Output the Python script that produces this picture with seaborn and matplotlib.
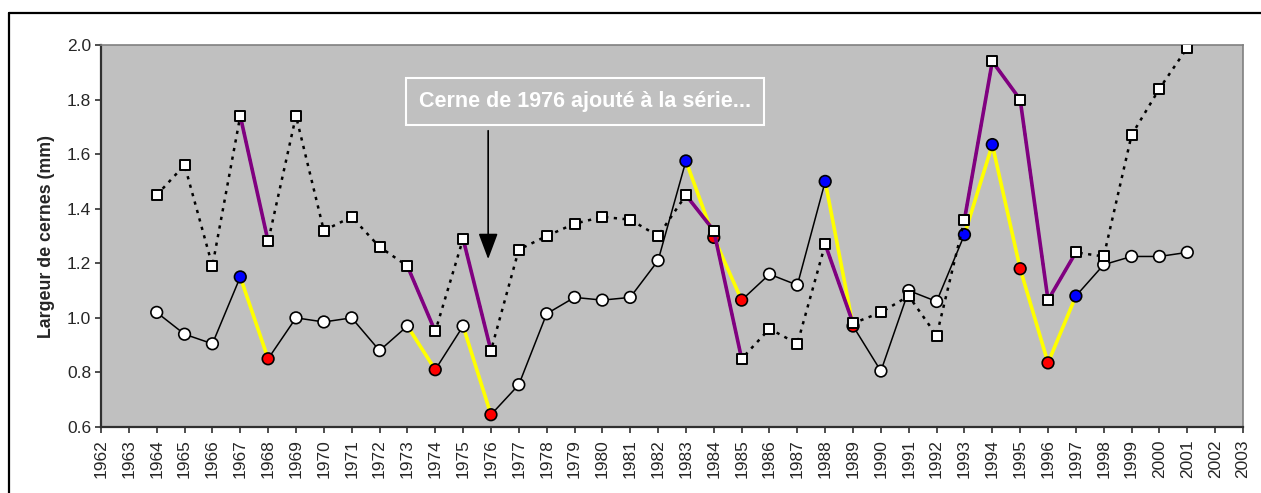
import numpy as np
import pandas as pd
import matplotlib
matplotlib.use('Agg')
import matplotlib.pyplot as plt
from matplotlib.lines import Line2D
import seaborn as sns

# %%
# ring widths (mm)
years = list(range(1964, 2002))
circle_vals = [1.02, 0.94, 0.905, 1.15, 0.85, 1.0, 0.985, 1.0, 0.88, 0.97,
               0.81, 0.97, 0.645, 0.755, 1.015, 1.075, 1.065, 1.075, 1.21, 1.575,
               1.295, 1.065, 1.16, 1.12, 1.50, 0.97, 0.805, 1.10, 1.06, 1.305,
               1.635, 1.18, 0.835, 1.08, 1.195, 1.225, 1.225, 1.24]
square_vals = [1.45, 1.56, 1.19, 1.74, 1.28, 1.74, 1.32, 1.37, 1.26, 1.19,
               0.95, 1.29, 0.88, 1.25, 1.30, 1.345, 1.37, 1.36, 1.30, 1.45,
               1.32, 0.85, 0.96, 0.905, 1.27, 0.98, 1.02, 1.08, 0.935, 1.36,
               1.94, 1.80, 1.065, 1.24, 1.225, 1.67, 1.84, 1.99]

# highlighted year spans (yellow on circles, purple on squares)
spans = [(1967, 1968), (1973, 1974), (1975, 1976), (1983, 1985), (1988, 1989), (1993, 1997)]
blue_years = [1967, 1983, 1988, 1993, 1994, 1997]
red_years = [1968, 1974, 1976, 1984, 1985, 1989, 1995, 1996]

x_ticks = list(range(1962, 2004))
y_ticks = [0.6, 0.8, 1.0, 1.2, 1.4, 1.6, 1.8, 2.0]
annot_text = 'Cerne de 1976 ajouté à la série...'

df = pd.DataFrame({'year': years, 'circle': circle_vals, 'square': square_vals})
df['kind'] = 'plain'
df.loc[df['year'].isin(blue_years), 'kind'] = 'up'
df.loc[df['year'].isin(red_years), 'kind'] = 'down'

# %%
sns.set_style('ticks')
plt.rcParams['font.family'] = ['Liberation Sans', 'DejaVu Sans']

fig = plt.figure(figsize=(12.61, 4.93), dpi=100)
ax = fig.add_axes([101 / 1261, 1 - 427 / 493, (1243 - 101) / 1261, (427 - 45) / 493])
ax.set_facecolor('#C0C0C0')

# circle series: black line, yellow highlights
sns.lineplot(data=df, x='year', y='circle', color='black', lw=1.1, ax=ax, zorder=2)
for a, b in spans:
    sub = df[(df['year'] >= a) & (df['year'] <= b)]
    sns.lineplot(data=sub, x='year', y='circle', color='#FFFF00', lw=2.6, ax=ax, zorder=3)
sns.scatterplot(data=df, x='year', y='circle', hue='kind',
                palette={'plain': 'white', 'up': '#0000FF', 'down': '#FF0000'},
                marker='o', s=70, edgecolor='black', linewidth=1.2, legend=False,
                ax=ax, zorder=4)

# square series: dotted line, purple highlights
sns.lineplot(data=df, x='year', y='square', color='black', lw=1.8,
             linestyle=(0, (1.3, 2.2)), ax=ax, zorder=5)
for a, b in spans:
    sub = df[(df['year'] >= a) & (df['year'] <= b)]
    sns.lineplot(data=sub, x='year', y='square', color='#800080', lw=2.6, ax=ax, zorder=6)
sns.scatterplot(data=df, x='year', y='square', color='white', marker='s', s=60,
                edgecolor='black', linewidth=1.4, legend=False, ax=ax, zorder=7)

# annotation box and arrow
ax.text(1979.38, 1.793, annot_text, color='white', fontsize=15.5, fontweight='bold',
        ha='center', va='center', zorder=8,
        bbox=dict(boxstyle='square,pad=0.6', facecolor='none', edgecolor='white', lw=1.5))
ax.annotate('', xy=(1975.9, 1.205), xytext=(1975.9, 1.696),
            arrowprops=dict(arrowstyle='-|>,head_length=0.8,head_width=0.3',
                            color='black', lw=1.2, mutation_scale=20), zorder=8)

ax.set_xlim(1962, 2003)
ax.set_ylim(0.6, 2.0)
ax.set_xticks(x_ticks)
ax.set_xticklabels([str(y) for y in x_ticks], rotation=90, fontsize=12.5)
ax.set_yticks(y_ticks)
ax.set_yticklabels([f'{v:.1f}' for v in y_ticks], fontsize=12.5)
ax.tick_params(axis='both', direction='out', length=4, width=1.2, color='#303030', pad=3)
ax.tick_params(axis='x', pad=5)
ax.set_xlabel('')
ax.set_ylabel('Largeur de cernes (mm)', fontsize=12.8, fontweight='bold', labelpad=9)

for side in ['left', 'bottom']:
    ax.spines[side].set_color('#303030')
    ax.spines[side].set_linewidth(1.6)
for side in ['top', 'right']:
    ax.spines[side].set_visible(True)
    ax.spines[side].set_color('#808080')
    ax.spines[side].set_linewidth(1.2)

# outer chart border (left and top edges visible)
bx = 8.5 / 1261
by = 1 - 12.5 / 493
fig.add_artist(Line2D([bx, bx], [0, by], color='black', lw=1.6, transform=fig.transFigure))
fig.add_artist(Line2D([bx, 1], [by, by], color='black', lw=1.6, transform=fig.transFigure))

fig.savefig('out.png', dpi=100, facecolor='white')
